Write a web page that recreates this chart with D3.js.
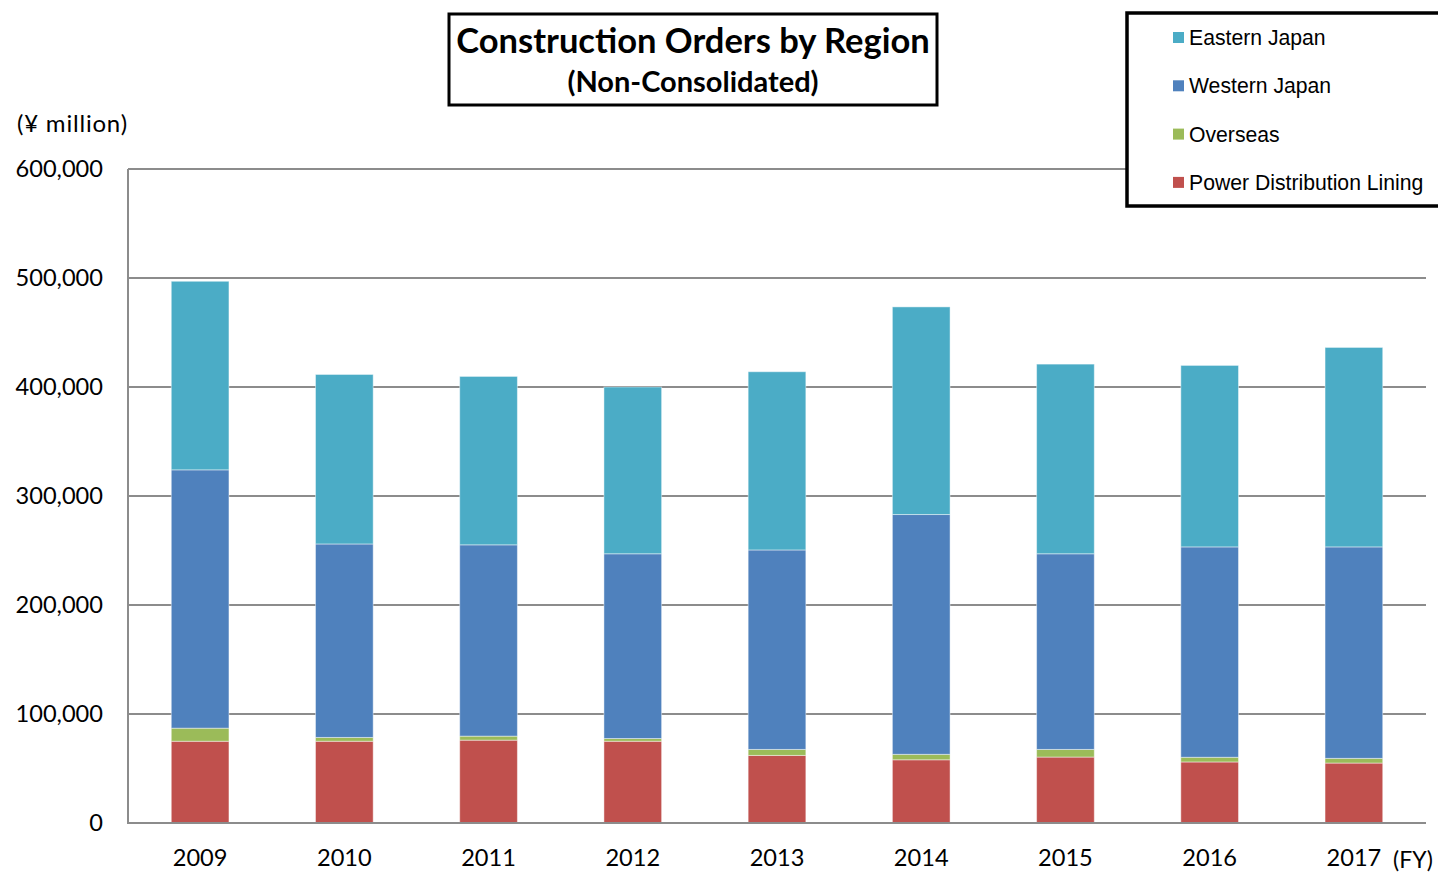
<!DOCTYPE html>
<html><head><meta charset="utf-8">
<script src="https://cdn.jsdelivr.net/npm/d3@7/dist/d3.min.js"></script>
<style>body{margin:0;background:#fff;} svg{display:block;}</style>
</head><body>
<script>
const years = ["2009","2010","2011","2012","2013","2014","2015","2016","2017"];
const powerDistribution = [75000, 75000, 76000, 75000, 62000, 58000, 60500, 56000, 55000];
const overseas = [12000, 3500, 3700, 2500, 5500, 5000, 7000, 4300, 4300];
const westernJapan = [237000, 177500, 175500, 169500, 183000, 220000, 179500, 193000, 194000];
const easternJapan = [173000, 155500, 154500, 153000, 163500, 190500, 174000, 166500, 183000];
const seriesNames = ["Power Distribution Lining", "Overseas", "Western Japan", "Eastern Japan"];
const seriesColors = ["#C0504D", "#9BBB59", "#4F81BD", "#4BACC6"];
const yTicks = [0, 100000, 200000, 300000, 400000, 500000, 600000];

const W = 1438, H = 872;
const svg = d3.select("body").append("svg").attr("width", W).attr("height", H);
const font = "Lato, 'Open Sans', sans-serif";

const x = d3.scaleBand().domain(years).range([128, 1426]).padding(0);
const y = d3.scaleLinear().domain([0, 600000]).range([823, 169]);

const rows = years.map((yr, i) => ({year: yr,
  "Power Distribution Lining": powerDistribution[i],
  "Overseas": overseas[i],
  "Western Japan": westernJapan[i],
  "Eastern Japan": easternJapan[i]}));
const stack = d3.stack().keys(seriesNames)(rows);
const color = d3.scaleOrdinal().domain(seriesNames).range(seriesColors);

// gridlines
svg.append("g").selectAll("line").data(yTicks.slice(1)).join("line")
  .attr("x1", 128).attr("x2", 1426).attr("y1", d => y(d)).attr("y2", d => y(d))
  .attr("stroke", "#8c8c8c").attr("stroke-width", 2);

// bars
const barW = x.bandwidth() * 0.4;
svg.append("g").selectAll("g").data(stack).join("g")
  .attr("fill", d => color(d.key))
  .selectAll("rect").data(d => d).join("rect")
  .attr("x", d => x(d.data.year) + (x.bandwidth() - barW) / 2)
  .attr("width", barW)
  .attr("y", d => y(d[1]))
  .attr("height", d => y(d[0]) - y(d[1]))
  .attr("stroke", "rgba(255,255,255,0.45)").attr("stroke-width", 1);

// axes lines
svg.append("line").attr("x1", 128).attr("x2", 128).attr("y1", 169).attr("y2", 824)
  .attr("stroke", "#8c8c8c").attr("stroke-width", 2);
svg.append("line").attr("x1", 127).attr("x2", 1426).attr("y1", 823).attr("y2", 823)
  .attr("stroke", "#8c8c8c").attr("stroke-width", 2);

// y tick labels
const yAxis = d3.axisLeft(y).tickValues(yTicks).tickFormat(d3.format(",")).tickSize(0).tickPadding(25);
const ya = svg.append("g").attr("transform", "translate(128,0)").call(yAxis);
ya.select(".domain").remove();
ya.selectAll("text").attr("font-family", font).attr("font-size", 23.6).attr("fill", "#000");

// x tick labels
const xAxis = d3.axisBottom(x).tickSize(0).tickPadding(26);
const xa = svg.append("g").attr("transform", "translate(0,823)").call(xAxis);
xa.select(".domain").remove();
xa.selectAll("text").attr("font-family", font).attr("font-size", 23.6).attr("fill", "#000");

svg.append("text").attr("x", 1393).attr("y", 868).text("(FY)")
  .attr("font-family", font).attr("font-size", 23).attr("fill", "#000");
svg.append("text").attr("x", 17).attr("y", 132).text("(¥ million)")
  .attr("font-family", font).attr("font-size", 24).attr("letter-spacing", 0.8).attr("fill", "#000");

// title box
svg.append("rect").attr("x", 449).attr("y", 14).attr("width", 488).attr("height", 91)
  .attr("fill", "#fff").attr("stroke", "#000").attr("stroke-width", 3);
svg.append("text").attr("x", 693).attr("y", 53).attr("text-anchor", "middle")
  .text("Construction Orders by Region")
  .attr("font-family", font).attr("font-weight", "bold").attr("font-size", 34.5).attr("fill", "#000");
svg.append("text").attr("x", 693).attr("y", 92).attr("text-anchor", "middle")
  .text("(Non-Consolidated)")
  .attr("font-family", font).attr("font-weight", "bold").attr("font-size", 29).attr("fill", "#000");

// legend
svg.append("rect").attr("x", 1127).attr("y", 13).attr("width", 330).attr("height", 193)
  .attr("fill", "#fff").attr("stroke", "#000").attr("stroke-width", 3.5);
const legendOrder = ["Eastern Japan", "Western Japan", "Overseas", "Power Distribution Lining"];
const lg = svg.append("g").selectAll("g").data(legendOrder).join("g")
  .attr("transform", (d, i) => `translate(1173,${38 + i * 48.3})`);
lg.append("rect").attr("x", 0).attr("y", -6).attr("width", 11).attr("height", 11).attr("fill", d => color(d));
lg.append("text").attr("x", 16).attr("y", 7).text(d => d)
  .attr("font-family", "'Liberation Sans', Arial, sans-serif").attr("font-size", 21.2).attr("fill", "#000");
</script>
</body></html>
